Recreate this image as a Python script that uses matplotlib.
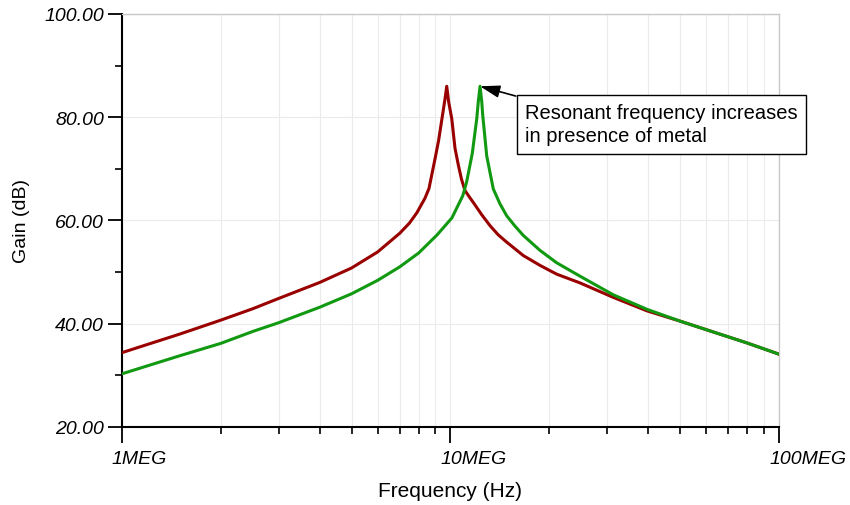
import matplotlib
matplotlib.use("Agg")
import matplotlib.pyplot as plt
import matplotlib.transforms as mtransforms
from matplotlib.ticker import FixedLocator, NullFormatter

plt.rcParams['font.family'] = ['Liberation Sans', 'DejaVu Sans']

# -----------------------------
# Data
# -----------------------------
# without metal (red)
red_freq_mhz = [1.0, 1.5, 2.0, 2.5, 3.0, 4.0, 5.0, 6.0, 7.0, 7.5, 7.9, 8.36,
                8.6, 8.97, 9.2, 9.45, 9.62, 9.74, 9.87, 10.09, 10.32, 10.56,
                10.8, 11.07, 11.4, 11.73, 12.45, 13.19, 13.98, 14.83, 16.66,
                18.73, 21.05, 24.8, 31.3, 39.6, 50.0, 63.1, 79.7, 100.0]
red_gain_db = [34.4, 38.0, 40.7, 42.9, 44.9, 48.0, 50.8, 53.9, 57.5, 59.5, 61.5, 64.3,
               66.2, 71.9, 75.5, 80.3, 83.5, 86.0, 83.0, 79.7, 74.0, 70.8,
               68.0, 65.8, 64.6, 63.5, 61.1, 59.0, 57.2, 55.8, 53.2,
               51.3, 49.6, 47.9, 45.1, 42.5, 40.5, 38.4, 36.3, 34.1]

# with metal (green)
green_freq_mhz = [1.0, 1.5, 2.0, 2.5, 3.0, 4.0, 5.0, 6.0, 7.0, 8.0, 9.1, 10.1,
                  10.9, 11.2, 11.65, 12.02, 12.15, 12.3, 12.45, 12.53, 12.89, 13.2,
                  13.5, 14.15, 14.83, 15.72, 16.66, 18.73, 21.05, 24.8, 31.3,
                  39.6, 50.0, 63.1, 79.7, 100.0]
green_gain_db = [30.3, 33.8, 36.2, 38.5, 40.2, 43.2, 45.8, 48.4, 51.0, 53.7, 57.2, 60.5,
                 64.8, 67.5, 73.0, 79.7, 83.0, 86.0, 83.0, 80.5, 72.5, 69.2,
                 66.1, 63.2, 60.9, 58.9, 57.1, 54.2, 51.8, 49.2, 45.6,
                 42.8, 40.5, 38.4, 36.3, 34.1]

x_major = [1e6, 1e7, 1e8]
x_major_labels = ["1MEG", "10MEG", "100MEG"]
y_major = [20, 40, 60, 80, 100]
y_major_labels = ["20.00", "40.00", "60.00", "80.00", "100.00"]
note = "Resonant frequency increases\nin presence of metal"

# -----------------------------
# Plot
# -----------------------------
fig = plt.figure(figsize=(8.5, 5.06), dpi=100)
ax = fig.add_axes([0.1435, 0.1542, 0.7730, 0.8162])

red_hz = [f * 1e6 for f in red_freq_mhz]
green_hz = [f * 1e6 for f in green_freq_mhz]

ax.plot(red_hz, red_gain_db, color="#990000", lw=2.2, zorder=3,
        solid_joinstyle="round")
ax.plot(green_hz, green_gain_db, color="#119911", lw=2.2, zorder=3,
        solid_joinstyle="round")

ax.set_xscale("log")
ax.set_xlim(1e6, 1e8)
ax.set_ylim(20, 100)

# ticks
minor_x = [m * d for d in (1e6, 1e7) for m in range(2, 10)]
ax.xaxis.set_major_locator(FixedLocator(x_major))
ax.xaxis.set_minor_locator(FixedLocator(minor_x))
ax.xaxis.set_minor_formatter(NullFormatter())
ax.set_xticks(x_major, x_major_labels)
ax.set_yticks(y_major, y_major_labels)
ax.yaxis.set_minor_locator(FixedLocator([30, 50, 70, 90]))

ax.tick_params(axis="x", which="major", length=11.5, width=1.3, pad=5, labelsize=14)
ax.tick_params(axis="x", which="minor", length=5, width=1.2)
ax.tick_params(axis="y", which="major", length=10, width=1.3, pad=3, labelsize=14)
ax.tick_params(axis="y", which="minor", length=5, width=1.2)

for lab in ax.get_xticklabels():
    lab.set_style("italic")
    lab.set_horizontalalignment("left")
    lab.set_transform(lab.get_transform() +
                      mtransforms.ScaledTranslation(-10 / 100, 0, fig.dpi_scale_trans))
for lab in ax.get_yticklabels():
    lab.set_style("italic")

# grid
ax.grid(True, which="major", axis="y", color="#ebebeb", lw=0.8)
ax.grid(True, which="both", axis="x", color="#ebebeb", lw=0.8)
ax.set_axisbelow(True)

# spines
for s in ("left", "bottom"):
    ax.spines[s].set_linewidth(1.5)
    ax.spines[s].set_color("black")
for s in ("top", "right"):
    ax.spines[s].set_linewidth(1.0)
    ax.spines[s].set_color("#c8c8c8")

ax.set_xlabel("Frequency (Hz)", fontsize=15, labelpad=10)
ax.set_ylabel("Gain (dB)", fontsize=14, labelpad=10)

# annotation
ax.text(0.6134, 0.7845, note, transform=ax.transAxes, fontsize=14.5, va="top",
        ha="left", linespacing=1.3,
        bbox=dict(boxstyle="square,pad=0.42", fc="white", ec="black", lw=1.0),
        zorder=5)
peak = green_gain_db.index(max(green_gain_db))
ax.annotate("", xy=(green_hz[peak], green_gain_db[peak]), xytext=(15.8e6, 84.1),
            arrowprops=dict(arrowstyle="-|>,head_length=0.8,head_width=0.25",
                            color="black", lw=1.2, mutation_scale=15,
                            shrinkA=0, shrinkB=0),
            zorder=6)

plt.savefig("out.png", dpi=100)
